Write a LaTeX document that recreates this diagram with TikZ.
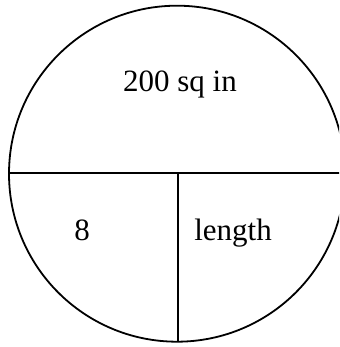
\documentclass[tikz,border=0pt]{standalone}
\usepackage{fontspec}
\setmainfont{Liberation Serif}
\usepackage{tikz}

\begin{document}
\begin{tikzpicture}[x=1pt, y=1pt]
\useasboundingbox (0,0) rectangle (339,347);
\clip (0,0) rectangle (339,347);
\coordinate (ctr) at (177,173.3);
\coordinate (midL) at (9.5,174);
\coordinate (midR) at (345,174);
\coordinate (split) at (178,174);
\coordinate (base) at (178,5.3);
\draw[line width=1.8pt] (ctr) circle[radius=168];
\draw[line width=1.8pt] (midL) -- (midR);
\draw[line width=1.8pt] (split) -- (base);
\node (area) [font=\fontsize{31}{36}\selectfont, anchor=base] at (180,255) {200 sq in};
\node (width) [font=\fontsize{31}{36}\selectfont, anchor=base] at (82,106) {8};
\node (len) [font=\fontsize{31}{36}\selectfont, anchor=base] at (233,106) {length};
\end{tikzpicture}
\end{document}
